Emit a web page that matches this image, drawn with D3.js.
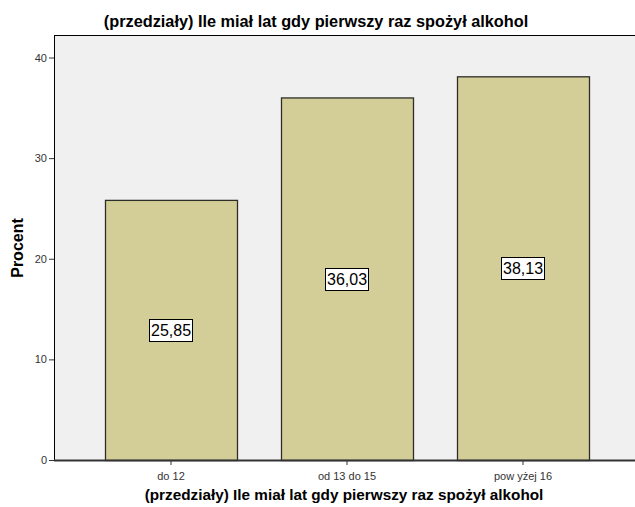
<!DOCTYPE html>
<html>
<head>
<meta charset="utf-8">
<script src="https://cdn.jsdelivr.net/npm/d3@7"></script>
<style>
  html, body { margin: 0; padding: 0; background: #ffffff; }
  svg { display: block; font-family: "Liberation Sans", Arial, sans-serif; }
</style>
</head>
<body>
<svg id="chart" width="635" height="507"></svg>
<script>
// Age intervals at first alcohol consumption and their percentages
const categories = ["do 12", "od 13 do 15", "pow yżej 16"];
const percentages = [25.85, 36.03, 38.13];
const valueLabels = ["25,85", "36,03", "38,13"];
const yTicks = [0, 10, 20, 30, 40];
const chartTitle = "(przedziały) Ile miał lat gdy pierwszy raz spożył alkohol";
const xTitle = "(przedziały) Ile miał lat gdy pierwszy raz spożył alkohol";
const yTitle = "Procent";

const svg = d3.select("#chart");

const plot = { left: 54, top: 35, right: 640, bottom: 460 };

const y = d3.scaleLinear().domain([0, 40]).range([460, 57.5]);
const x = d3.scaleBand()
  .domain(categories)
  .range([83, 611])
  .paddingInner(0.25)
  .paddingOuter(0.125);

// plot background
svg.append("rect")
  .attr("x", plot.left + 0.5)
  .attr("y", plot.top + 0.5)
  .attr("width", plot.right - plot.left)
  .attr("height", plot.bottom - plot.top)
  .attr("fill", "#f0f0f0")
  .attr("stroke", "#000")
  .attr("stroke-width", 1);

// bars
svg.append("g").selectAll("rect")
  .data(percentages)
  .join("rect")
  .attr("x", (d, i) => x(categories[i]) + 0.5)
  .attr("y", d => y(d) + 0.5)
  .attr("width", x.bandwidth())
  .attr("height", d => y(0) - y(d))
  .attr("fill", "#d3ce98")
  .attr("stroke", "#2e2e28")
  .attr("stroke-width", 1.3);

// value labels inside bars
const labels = svg.append("g").selectAll("g")
  .data(percentages)
  .join("g")
  .attr("transform", (d, i) => `translate(${Math.round(x(categories[i]) + x.bandwidth() / 2)},${Math.round(y(d / 2))})`);

labels.append("rect")
  .attr("x", -21.5)
  .attr("y", -10.5)
  .attr("width", 43)
  .attr("height", 22)
  .attr("fill", "#fff")
  .attr("stroke", "#000")
  .attr("stroke-width", 1);

labels.append("text")
  .attr("text-anchor", "middle")
  .attr("dy", "0.4em")
  .attr("font-size", 16)
  .attr("fill", "#000")
  .text((d, i) => valueLabels[i]);

// y axis
const yAxis = d3.axisLeft(y).tickValues(yTicks).tickSize(5).tickPadding(2).tickFormat(d3.format("d"));
const yg = svg.append("g")
  .attr("transform", `translate(${plot.left},0)`)
  .call(yAxis);
yg.select(".domain").remove();
yg.selectAll("line").attr("stroke", "#333");
yg.selectAll("text").attr("font-size", 11).attr("fill", "#333")
  .style("font-family", "'Liberation Sans', Arial, sans-serif");

// x axis
const xAxis = d3.axisBottom(x).tickSize(5).tickPadding(7);
const xg = svg.append("g")
  .attr("transform", `translate(0,${plot.bottom})`)
  .call(xAxis);
xg.select(".domain")
  .attr("d", `M${plot.left},0.5H${plot.right}`)
  .attr("stroke", "#333")
  .attr("stroke-width", 1.8);
xg.selectAll("line").attr("stroke", "#333");
xg.selectAll("text").attr("font-size", 11).attr("fill", "#333")
  .style("font-family", "'Liberation Sans', Arial, sans-serif");

// titles
svg.append("text")
  .attr("x", 316)
  .attr("y", 27)
  .attr("text-anchor", "middle")
  .attr("font-size", 16.3)
  .attr("font-weight", "bold")
  .text(chartTitle);

svg.append("text")
  .attr("x", 344)
  .attr("y", 500)
  .attr("text-anchor", "middle")
  .attr("font-size", 15.3)
  .attr("font-weight", "bold")
  .text(xTitle);

svg.append("text")
  .attr("transform", "translate(23,248) rotate(-90)")
  .attr("text-anchor", "middle")
  .attr("font-size", 16)
  .attr("font-weight", "bold")
  .text(yTitle);
</script>
</body>
</html>
